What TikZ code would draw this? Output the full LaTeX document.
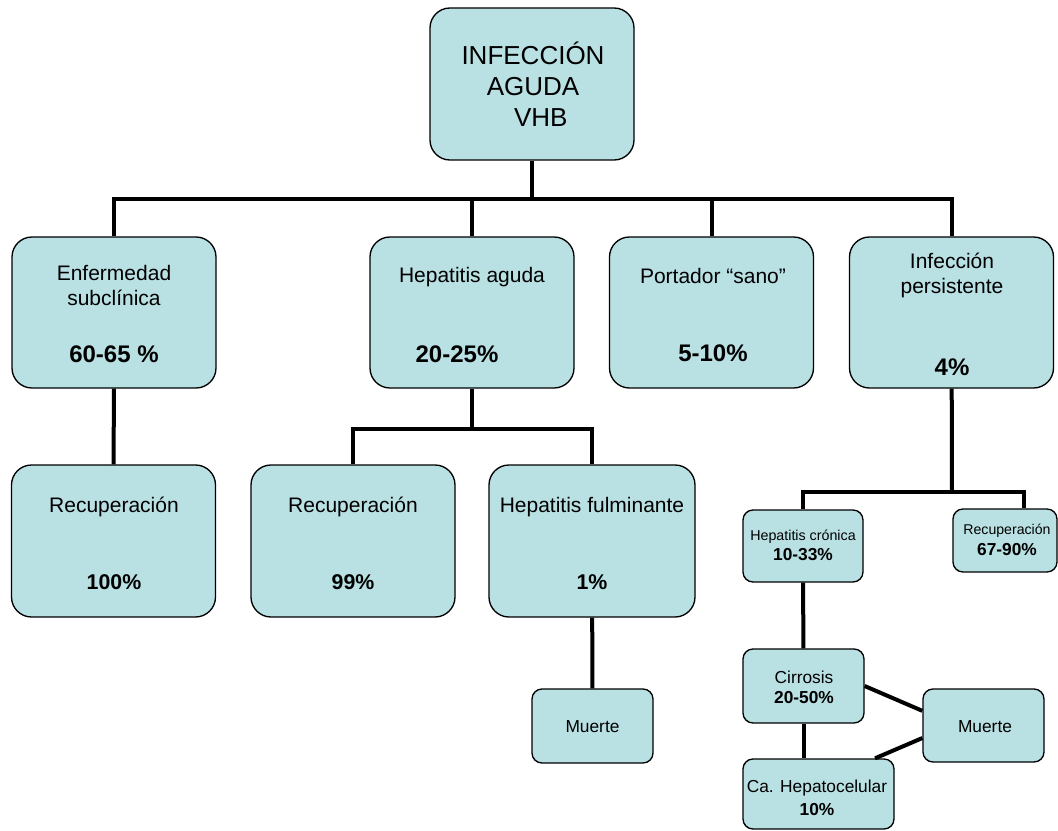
\documentclass[tikz,border=0pt]{standalone}
\usepackage{fontspec}
\setmainfont{Liberation Sans}
\usetikzlibrary{calc}
\definecolor{celeste}{RGB}{185,224,227}

\begin{document}
\begin{tikzpicture}[x=0.75pt, y=-0.75pt,
    caja/.style={draw, fill=celeste, line width=1pt, rounded corners=15pt, inner sep=0pt,
      minimum width=153pt, minimum height=114pt},
    chica/.style={caja, rounded corners=7.5pt},
    rama/.style={line width=3pt},
    txt/.style={align=center, inner sep=0pt, font=\fontsize{15.75}{18.75}\selectfont},
    pct/.style={inner sep=0pt, font=\fontsize{18}{21}\selectfont\bfseries},
    menor/.style={inner sep=0pt, font=\fontsize{13}{15}\selectfont}]
  \useasboundingbox (0,0) rectangle (1058,831);
  % cajas
  \node[caja] (agud) at (532,84) {};
  \node[caja, minimum height=113.25pt] (enf) at (114,312.5) {};
  \node[caja, minimum height=113.25pt] (hep) at (472,312.5) {};
  \node[caja, minimum height=113.25pt] (port) at (711.5,312.5) {};
  \node[caja, minimum height=113.25pt] (pers) at (951.5,312.5) {};
  \node[caja] (rec1) at (113.5,541) {};
  \node[caja] (rec2) at (353,541) {};
  \node[caja, minimum width=154.5pt] (fulm) at (592,541) {};
  \node[chica, minimum width=90.75pt, minimum height=55.5pt] (muer1) at (592.5,726) {};
  \node[chica, minimum width=90pt, minimum height=54pt] (cron) at (803,546) {};
  \node[chica, minimum width=78pt, minimum height=47.25pt] (recu) at (1005,540.5) {};
  \node[chica, minimum width=90.75pt, minimum height=55.5pt] (cirr) at (803.5,686) {};
  \node[chica, minimum width=113.25pt, minimum height=52.5pt] (hcel) at (818.5,794) {};
  \node[chica, minimum width=90.75pt, minimum height=54.75pt] (muer2) at (983.5,725.5) {};
  % ramas
  \coordinate (b1) at (532,199);
  \coordinate (b2) at (472,429);
  \coordinate (b3) at (952,492);
  \draw[rama] (agud) -- (b1);
  \draw[rama] (b1) -| (enf.north);
  \draw[rama] (b1) -| (hep.north);
  \draw[rama] (b1) -| (port.north);
  \draw[rama] (b1) -| (pers.north);
  \draw[rama] (enf) -- (rec1);
  \draw[rama] (hep) -- (b2);
  \draw[rama] (b2) -| (rec2.north);
  \draw[rama] (b2) -| (fulm.north);
  \draw[rama] (fulm) -- (muer1);
  \draw[rama] (pers) -- (b3);
  \draw[rama] (b3) -| (cron.north);
  \draw[rama] (b3) -| ([xshift=14.25pt]recu.north);
  \draw[rama] (cron) -- (cirr);
  \draw[rama] (cirr.south) -- (cirr.south |- hcel.north);
  \draw[rama] (cirr.east) -- ([yshift=11pt]muer2.west);
  \draw[rama] ([xshift=42.4pt]hcel.north) -- ([yshift=-9.4pt]muer2.west);
  % textos
  \node[txt, font=\fontsize{19.5}{23.25}\selectfont] (tagud) at (533,84) {INFECCIÓN\\AGUDA\\\hspace*{0.6em}VHB};
  \node[txt] (tenf) at (114,285.5) {Enfermedad\\subclínica};
  \node[pct] (penf) at (114,354) {60-65 \%};
  \node[txt] (thep) at (472,277) {Hepatitis aguda};
  \node[pct] (phep) at (457,354) {20-25\%};
  \node[txt] (tport) at (713,276) {Portador “sano”};
  \node[pct] (pport) at (713,353) {5-10\%};
  \node[txt] (tpers) at (952,275) {Infección\\persistente};
  \node[pct] (ppers) at (952,367) {4\%};
  \node[txt] (trec1) at (114,507) {Recuperación};
  \node[pct, font=\fontsize{16}{19}\selectfont\bfseries] (prec1) at (114,582) {100\%};
  \node[txt] (trec2) at (353,507) {Recuperación};
  \node[pct, font=\fontsize{16}{19}\selectfont\bfseries] (prec2) at (353,582) {99\%};
  \node[txt] (tfulm) at (592,507) {Hepatitis fulminante};
  \node[pct, font=\fontsize{16}{19}\selectfont\bfseries] (pfulm) at (592,582) {1\%};
  \node[menor] (tmuer1) at (592.5,727) {Muerte};
  \node[menor, font=\fontsize{10.7}{12}\selectfont] (tcron) at (803,537) {Hepatitis crónica};
  \node[menor, font=\fontsize{13}{15}\selectfont\bfseries] (pcron) at (803,555) {10-33\%};
  \node[menor, font=\fontsize{10.6}{12}\selectfont] (trecu) at (1007,531) {Recuperación};
  \node[menor, font=\fontsize{13}{15}\selectfont\bfseries] (precu) at (1007,550) {67-90\%};
  \node[menor] (tcirr) at (804,677) {Cirrosis};
  \node[menor, font=\fontsize{13}{15}\selectfont\bfseries] (pcirr) at (804,698) {20-50\%};
  \node[menor] (thcel) at (817,788) {Ca. Hepatocelular};
  \node[menor, font=\fontsize{13}{15}\selectfont\bfseries] (phcel) at (817,810) {10\%};
  \node[menor] (tmuer2) at (985,727) {Muerte};
\end{tikzpicture}
\end{document}
